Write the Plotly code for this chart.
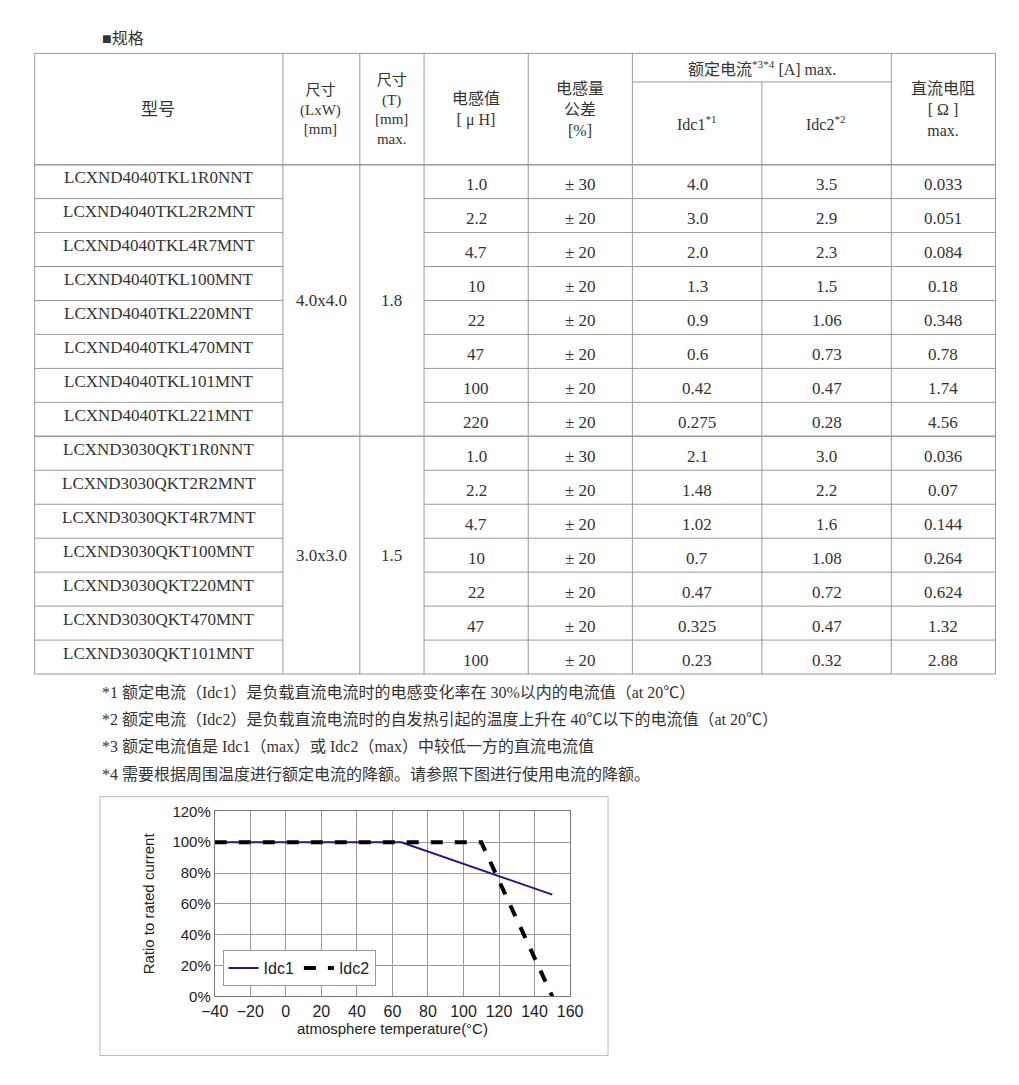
import plotly.graph_objects as go

models = ["LCXND4040TKL1R0NNT","LCXND4040TKL2R2MNT","LCXND4040TKL4R7MNT","LCXND4040TKL100MNT",
          "LCXND4040TKL220MNT","LCXND4040TKL470MNT","LCXND4040TKL101MNT","LCXND4040TKL221MNT",
          "LCXND3030QKT1R0NNT","LCXND3030QKT2R2MNT","LCXND3030QKT4R7MNT","LCXND3030QKT100MNT",
          "LCXND3030QKT220MNT","LCXND3030QKT470MNT","LCXND3030QKT101MNT"]
inductance = ["1.0","2.2","4.7","10","22","47","100","220","1.0","2.2","4.7","10","22","47","100"]
tolerance = ["± 30"] + ["± 20"]*7 + ["± 30"] + ["± 20"]*6
idc1 = ["4.0","3.0","2.0","1.3","0.9","0.6","0.42","0.275","2.1","1.48","1.02","0.7","0.47","0.325","0.23"]
idc2 = ["3.5","2.9","2.3","1.5","1.06","0.73","0.47","0.28","3.0","2.2","1.6","1.08","0.72","0.47","0.32"]
dcr = ["0.033","0.051","0.084","0.18","0.348","0.78","1.74","4.56","0.036","0.07","0.144","0.264","0.624","1.32","2.88"]
groups = [("4.0x4.0","1.8",0,8),("3.0x3.0","1.5",8,15)]
notes = ["*1 额定电流（Idc1）是负载直流电流时的电感变化率在 30%以内的电流值（at 20℃）",
         "*2 额定电流（Idc2）是负载直流电流时的自发热引起的温度上升在 40℃以下的电流值（at 20℃）",
         "*3 额定电流值是 Idc1（max）或 Idc2（max）中较低一方的直流电流值",
         "*4 需要根据周围温度进行额定电流的降额。请参照下图进行使用电流的降额。"]

t1 = [-40, 65, 150]; r1 = [1.0, 1.0, 0.66]
t2 = [-40, 110, 150]; r2 = [1.0, 1.0, 0.0]

W, H = 1019, 1085
SERIF = "Liberation Serif, Noto Sans CJK SC"
fig = go.Figure()
fig.add_trace(go.Scatter(x=t1, y=r1, mode="lines", name="Idc1", line=dict(color="#1c1c8a", width=2)))
fig.add_trace(go.Scatter(x=t2, y=r2, mode="lines", name="Idc2", line=dict(color="black", width=4, dash="dash")))

def px(x): return x / W
def py(y): return 1 - y / H

shapes, ann = [], []
def line(x0, y0, x1, y1, c="#999", w=1):
    shapes.append(dict(type="line", xref="paper", yref="paper", x0=px(x0), y0=py(y0), x1=px(x1), y1=py(y1),
                       line=dict(color=c, width=w)))
def text(x, y, s, size=16, font=SERIF, color="#333", xa="center"):
    ann.append(dict(xref="paper", yref="paper", x=px(x), y=py(y), text=s, showarrow=False, xanchor=xa,
                    yanchor="middle", font=dict(family=font, size=size, color=color)))

L, R, T, HB = 13, 1000, 37, 150
cols = [L, 268, 347, 413, 520, 627, 760, 893, R]
rh = 34.5
B = HB + rh*15
shapes.append(dict(type="rect", xref="paper", yref="paper", x0=px(L), y0=py(T), x1=px(R), y1=py(B),
                   line=dict(color="#999", width=1)))
for c in cols[1:-1]:
    line(c, 66 if c == 760 else T, c, B)
line(627, 66, 893, 66)
line(L, HB, R, HB, w=1.5)
for i in range(1, 15):
    y = HB + rh*i
    if i == 8:
        line(L, y, R, y, w=1.5)
    else:
        line(L, y, cols[1], y); line(cols[3], y, R, y)

text(80, 22, "■规格", 16, xa="left")
text(140, 94, "型号", 17)
text(307, 94, "尺寸<br>(LxW)<br>[mm]", 15)
text(380, 94, "尺寸<br>(T)<br>[mm]<br>max.", 15)
text(466, 94, "电感值<br>[ μ H]", 16)
text(573, 94, "电感量<br>公差<br>[%]", 16)
text(760, 52, "额定电流<sup>*3*4</sup> [A] max.", 16)
text(693, 108, "Idc1<sup>*1</sup>", 16)
text(826, 108, "Idc2<sup>*2</sup>", 16)
text(946, 94, "直流电阻<br>[ Ω ]<br>max.", 16)
centers = [(cols[i]+cols[i+1])/2 for i in range(8)]
for i in range(15):
    ym = HB + rh*i + rh/2
    text(centers[0], ym - 4, models[i], 17)
    for j, arr in zip(range(3, 8), [inductance, tolerance, idc1, idc2, dcr]):
        text(centers[j], ym + 3, arr[i], 17)
for lw, t, a, b in groups:
    ym = HB + rh*(a+b)/2
    text(centers[1], ym, lw, 17); text(centers[2], ym, t, 17)
for k, n in enumerate(notes):
    text(80, 686 + 27.7*k, n, 16, xa="left")
shapes.append(dict(type="rect", xref="paper", yref="paper", x0=px(80), y0=py(792), x1=px(602), y1=py(1055),
                   line=dict(color="#bbb", width=1), layer="below"))

SANS = "Liberation Sans, Arial"
fig.update_layout(
    width=W, height=H, margin=dict(l=0, r=0, t=0, b=0), paper_bgcolor="white", plot_bgcolor="white",
    shapes=shapes, annotations=ann,
    xaxis=dict(domain=[198/W, 563/W], range=[-40, 160], dtick=20, tick0=-40, showgrid=True,
               gridcolor="#999", showline=True, linecolor="#777", mirror=True, zeroline=False,
               ticks="", tickfont=dict(family=SANS, size=16, color="#222"),
               title=dict(text="atmosphere temperature(°C)", font=dict(family=SANS, size=15, color="#222"), standoff=2)),
    yaxis=dict(domain=[1-995/H, 1-807/H], range=[0, 1.2], dtick=0.2, tickformat=".0%", showgrid=True,
               gridcolor="#999", showline=True, linecolor="#777", mirror=True, zeroline=False,
               tickfont=dict(family=SANS, size=15, color="#222"),
               title=dict(text="Ratio to rated current", font=dict(family=SANS, size=15, color="#222"), standoff=14)),
    legend=dict(orientation="h", x=206/W, y=1-948/H, xanchor="left", yanchor="top", bgcolor="white",
                bordercolor="#999", borderwidth=1, font=dict(family=SANS, size=16, color="#222")),
)
fig.write_html("out.html")
